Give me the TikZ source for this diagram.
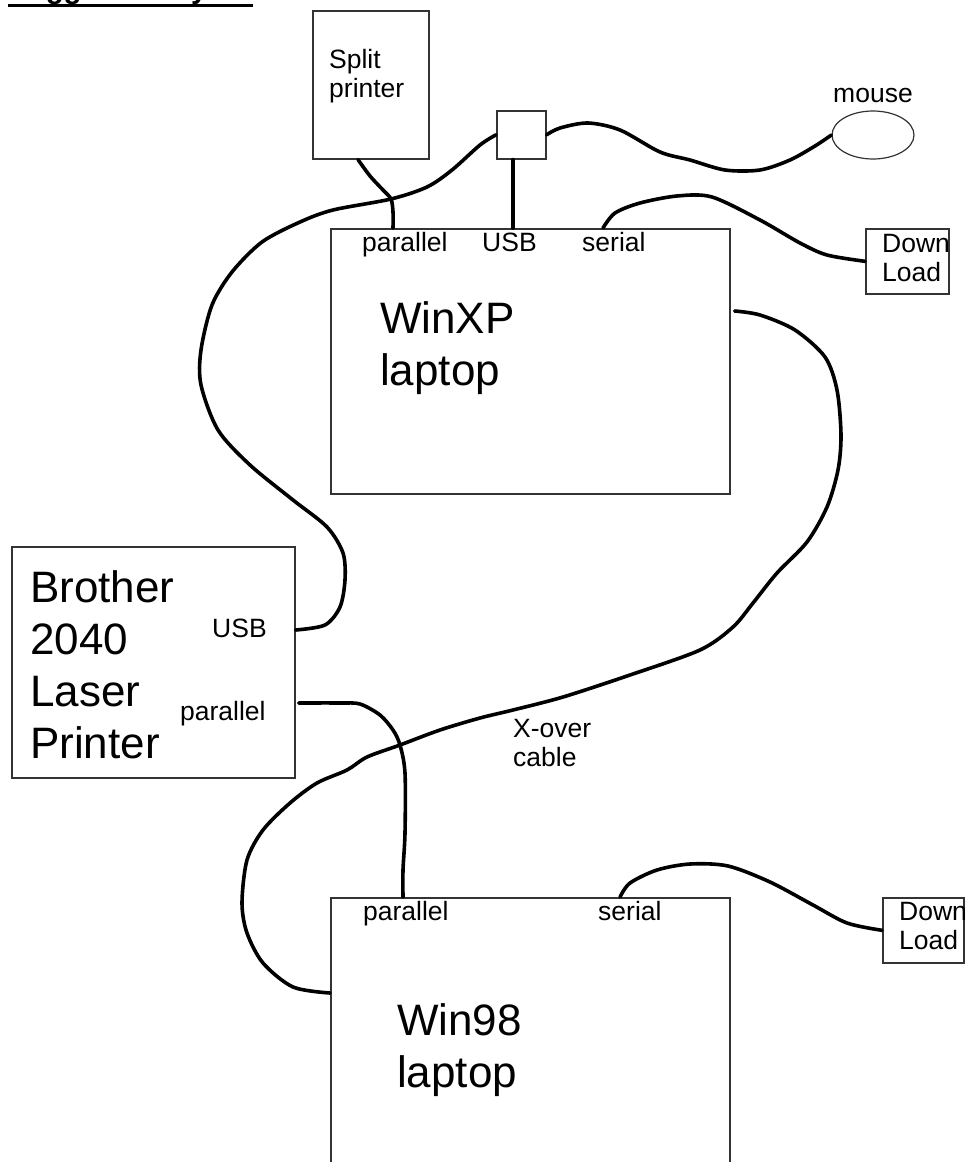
\documentclass[tikz,border=0pt]{standalone}
\usepackage{fontspec}
\setmainfont{Liberation Sans}
\usetikzlibrary{shapes.geometric}
\definecolor{boxline}{HTML}{333333}
\tikzset{
  devbox/.style={draw=boxline, line width=1.6, inner sep=0, anchor=north west},
  cable/.style={line width=3.6, line cap=round, line join=round},
  lbl/.style={anchor=base west, inner sep=0, align=left, font=\fontsize{26.5}{29.5}\selectfont},
  biglbl/.style={anchor=base west, inner sep=0, align=left, font=\fontsize{44}{52}\selectfont}
}
\begin{document}
\begin{tikzpicture}[x=1pt,y=-1pt]
  \useasboundingbox (0,0) rectangle (966,1162);
  \node[lbl, font=\fontsize{29.4}{34}\selectfont\bfseries] (title) at (8,-2) {Suggested layout};
  \draw[line width=3.5] ([yshift=-7.5]title.base west) -- ([yshift=-7.5]title.base east);

  \node[devbox, minimum width=116, minimum height=148] (split) at (312,10) {};
  \node[devbox, minimum width=49, minimum height=48] (hub) at (496,110) {};
  \node[draw=boxline, line width=1.2, ellipse, minimum width=82, minimum height=48, inner sep=0] (mouse) at (873,135) {};
  \node[devbox, minimum width=399, minimum height=265] (xp) at (330,228) {};
  \node[devbox, minimum width=83, minimum height=65] (dlxp) at (865,228) {};
  \node[devbox, minimum width=283, minimum height=231] (brother) at (11,546) {};
  \node[devbox, minimum width=399, minimum height=300] (w98) at (330,897) {};
  \node[devbox, minimum width=81, minimum height=65] (dl98) at (882,897) {};

  \node[lbl] (splittxt) at (329,97.5) {Split\\printer};
  \node[lbl, anchor=base] (mousetxt) at (873,102) {mouse};
  \node[lbl] (dlxptxt) at (882,281.5) {Down\\Load};
  \node[lbl] (xppar) at (362,251) {parallel};
  \node[lbl] (xpusb) at (482,251) {USB};
  \node[lbl] (xpser) at (582,251) {serial};
  \node[biglbl] (xptxt) at (380,385) {WinXP\\laptop};
  \node[biglbl] (brtxt) at (30,758) {Brother\\2040\\Laser\\Printer};
  \node[lbl] (brusb) at (212,637) {USB};
  \node[lbl] (brpar) at (180,720) {parallel};
  \node[lbl] (xotxt) at (513,766.5) {X-over\\cable};
  \node[lbl] (w98par) at (363,920) {parallel};
  \node[lbl] (w98ser) at (598,920) {serial};
  \node[lbl] (dl98txt) at (899,949.5) {Down\\Load};
  \node[biglbl] (w98txt) at (397,1087) {Win98\\laptop};

  \path (split.south west) ++(46,0) coordinate (split-par);
  \path (xp.north west) ++(63,0) coordinate (xp-par) ++(120,0) coordinate (xp-usb) ++(90,0) coordinate (xp-ser);
  \path (xp.north east) ++(4,83) coordinate (xp-lan);
  \path (brother.north east) ++(0,84) coordinate (br-usb) ++(3,73) coordinate (br-par);
  \path (w98.north west) ++(73,0) coordinate (w98-par) ++(217,0) coordinate (w98-ser);
  \path (w98.north west) ++(0,96) coordinate (w98-lan);

  \draw[cable] plot[smooth] coordinates {(split-par) (370,176) (383,190) (391,199) (393,212) (xp-par)};
  \draw[cable] plot[smooth] coordinates {(hub.west) (480,145) (452,170) (427,187) (391,199) (333,210) (300,222) (262,242) (232,272) (212,305) (201,350) (201,385) (218,430) (250,465) (293,500) (327,527) (343,553) (345,580) (340,607) (325,625) (br-usb)};
  \draw[cable] (xp-usb |- hub.south) -- (xp-usb);
  \draw[cable] plot[smooth] coordinates {(hub.east) (560,128) (588,123) (620,130) (660,152) (690,160) (725,170) (760,170) (790,160) (815,146) (mouse.west)};
  \draw[cable] plot[smooth] coordinates {(xp-ser) (615,213) (640,203) (677,196) (712,197) (760,220) (800,243) (827,255) (dlxp.west)};
  \draw[cable] plot[smooth] coordinates {(xp-lan) (760,315) (795,330) (825,357) (837,390) (841,435) (838,470) (827,507) (807,542) (777,573) (753,603) (733,627) (700,650) (630,675) (563,697) (513,710) (480,718) (440,730) (400,745) (367,757) (347,770) (317,783) (290,803) (263,830) (247,860) (242,903) (247,933) (263,963) (293,987) (w98-lan)};
  \draw[cable] plot[smooth] coordinates {(br-par) (340,703) (360,704) (380,715) (393,730) (400,745) (405,773) (405,833) (403,870) (w98-par)};
  \draw[cable] plot[smooth] coordinates {(w98-ser) (630,883) (657,870) (690,864) (728,866) (770,882) (813,905) (847,923) (dl98.west)};
\end{tikzpicture}
\end{document}
